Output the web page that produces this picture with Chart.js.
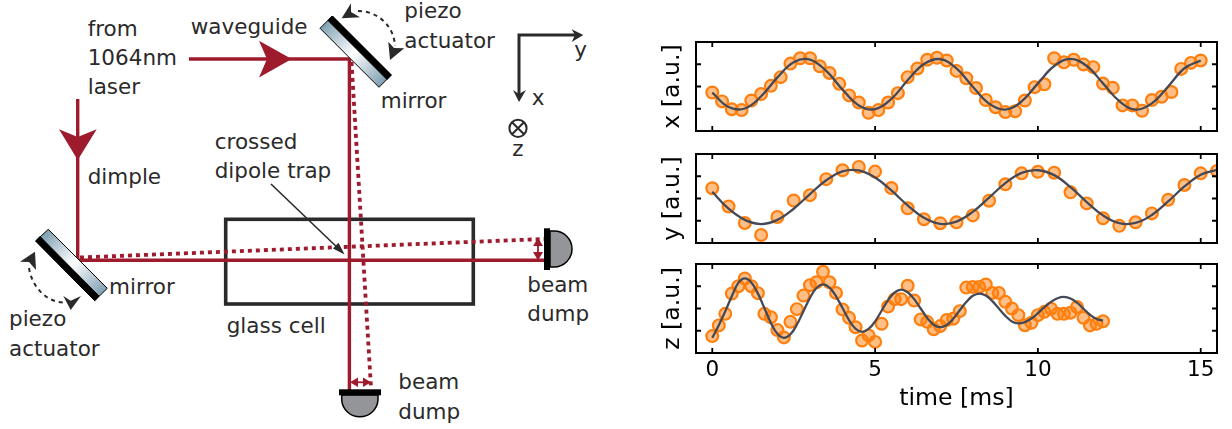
<!DOCTYPE html>
<html lang="en">
  <head>
    <meta charset="UTF-8" />
    <title>Crossed dipole trap oscillations</title>
    <script src="https://cdn.jsdelivr.net/npm/chart.js@4/dist/chart.umd.js"></script>
    <style>
      html, body { margin: 0; padding: 0; background: #fff; overflow: hidden; }
      #page { position: relative; width: 1232px; height: 429px; }
      canvas { position: absolute; left: 650px; }
      #schematic { position: absolute; left: 0; top: 0; }
      #schematic text { font-family: "DejaVu Sans"; font-size: 21.5px; fill: #2b2a2b; }
    </style>
  </head>
  <body>
    <div id="page">
      <svg id="schematic" width="640" height="429" viewBox="0 0 640 429">
        <defs>
          <linearGradient id="glassTop" gradientUnits="userSpaceOnUse" x1="325" y1="22" x2="385" y2="81">
            <stop offset="0" stop-color="#7f9fb2" />
            <stop offset="0.5" stop-color="#ffffff" />
            <stop offset="1" stop-color="#7f9fb2" />
          </linearGradient>
          <linearGradient id="glassBottom" gradientUnits="userSpaceOnUse" x1="42" y1="235" x2="101" y2="295">
            <stop offset="0" stop-color="#7f9fb2" />
            <stop offset="0.5" stop-color="#ffffff" />
            <stop offset="1" stop-color="#7f9fb2" />
          </linearGradient>
        </defs>

        <!-- glass cell -->
        <rect x="225.7" y="219.3" width="247.6" height="84.7" fill="none" stroke="#2b2a2b" stroke-width="3.6" />

        <!-- beams -->
        <g fill="none" stroke="#9e1b2e" stroke-width="3.4">
          <path d="M189 59H350" />
          <path d="M349.4 59V390" />
          <path d="M77.7 99V260.3H544" />
        </g>
        <g fill="none" stroke="#9e1b2e" stroke-width="3.8">
          <path d="M351.5 62L371 388" stroke-dasharray="4 4" />
          <path d="M80 257.5L544 239" stroke-dasharray="4 4" />
        </g>
        <g fill="#9e1b2e">
          <path d="M291.7 59L259 40.7L267 59L259 77.6Z" />
          <path d="M77.7 160L59 129.3L77.7 137L96.7 129.3Z" />
        </g>

        <!-- small displacement arrows at the dumps -->
        <g fill="none" stroke="#9e1b2e" stroke-width="1.8">
          <path d="M538 241V258" />
          <path d="M352 382.3H369" />
        </g>
        <g fill="#9e1b2e">
          <path d="M538 238L533 246L543 246Z" />
          <path d="M538 260.5L533 252L543 252Z" />
          <path d="M350 382.3L358 377.5L358 387Z" />
          <path d="M371 382.3L363 377.5L363 387Z" />
        </g>

        <!-- pointer to the crossing -->
        <path d="M271 184L342 252" fill="none" stroke="#2b2a2b" stroke-width="1.6" />
        <path d="M344.6 254.6L333 248.5L338.5 242.8Z" fill="#2b2a2b" />

        <!-- mirrors -->
        <path d="M332.3 16L391.3 75L379 87.3L320 28.3Z" fill="url(#glassTop)" stroke="#000" stroke-width="1" />
        <path d="M332.3 16L391.3 75L387 79.5L328 20.5Z" fill="#000" stroke="#000" stroke-width="1" />
        <path d="M48.3 229.3L107.3 288.3L94.7 300.7L35.7 241Z" fill="url(#glassBottom)" stroke="#000" stroke-width="1" />
        <path d="M35.7 241L94.7 300.7L99 296L40 236.5Z" fill="#000" stroke="#000" stroke-width="1" />

        <!-- piezo arcs -->
        <g fill="none" stroke="#2b2a2b" stroke-width="2" stroke-dasharray="4 4">
          <path d="M358 11C378 11 394 26 395 46" />
          <path d="M29 268C32 287 46 302 64 302.5" />
        </g>
        <g fill="#2b2a2b">
          <path d="M341.7 18.3L351 3.3L351 12L360 17.3Z" />
          <path d="M390 60L388.3 41.7L394 48L404.3 48.3Z" />
          <path d="M35 251.7L20 261.7L29 262L36 270Z" />
          <path d="M70.7 310L63.3 296L70.7 300.7L81 296Z" />
        </g>

        <!-- beam dumps -->
        <path d="M550 231H554A18 18 0 0 1 554 267H550Z" fill="#939598" stroke="#000" stroke-width="1.5" />
        <rect x="544" y="228.3" width="6" height="41.7" fill="#000" />
        <path d="M341.7 395V400A18.2 18.2 0 0 0 378 400V395Z" fill="#939598" stroke="#000" stroke-width="1.5" />
        <rect x="339" y="389.3" width="42" height="6" fill="#000" />

        <!-- coordinate axes -->
        <path d="M575 35H519V94" fill="none" stroke="#2b2a2b" stroke-width="3" />
        <path d="M583.3 35L571.7 29.3L575 35L571.7 42Z" fill="#2b2a2b" />
        <path d="M519 102L513 90L519 94L526 90Z" fill="#2b2a2b" />
        <circle cx="518" cy="128.3" r="8.6" fill="none" stroke="#2b2a2b" stroke-width="2" />
        <path d="M512 122.3L524 134.3M524 122.3L512 134.3" stroke="#2b2a2b" stroke-width="2" />

        <!-- labels -->
        <text x="87.7" y="36">from</text>
        <text x="87.7" y="65">1064nm</text>
        <text x="87.7" y="94">laser</text>
        <text x="190.7" y="33.7">waveguide</text>
        <text x="87.7" y="184">dimple</text>
        <text x="214.7" y="149">crossed</text>
        <text x="214.7" y="178">dipole trap</text>
        <text x="404.3" y="18">piezo</text>
        <text x="404.3" y="47.7">actuator</text>
        <text x="380.7" y="108">mirror</text>
        <text x="574.3" y="56.7">y</text>
        <text x="531.7" y="105">x</text>
        <text x="512.3" y="155.7">z</text>
        <text x="109" y="294">mirror</text>
        <text x="9" y="326">piezo</text>
        <text x="9" y="355.7">actuator</text>
        <text x="226.7" y="332.7">glass cell</text>
        <text x="527.3" y="292">beam</text>
        <text x="527.3" y="321">dump</text>
        <text x="398.3" y="389.3">beam</text>
        <text x="398.3" y="419">dump</text>
      </svg>
      <canvas id="chartX" width="582" height="93" style="top:40px"></canvas>
      <canvas id="chartY" width="582" height="93" style="top:151.5px"></canvas>
      <canvas id="chartZ" width="582" height="167" style="top:262px"></canvas>
    </div>

    <script>
      const xTickValues = [0, 5, 10, 15];
      const yTickValues = [-1, 0, 1];

      const xTimes = [0, 0.3, 0.6, 0.9, 1.2, 1.5, 1.8, 2.1, 2.4, 2.7, 3, 3.3, 3.6, 3.9, 4.2, 4.5, 4.8, 5.1, 5.4, 5.7, 6, 6.3, 6.6, 6.9, 7.2, 7.5, 7.8, 8.1, 8.4, 8.7, 9, 9.3, 9.6, 9.9, 10.2, 10.5, 10.8, 11.1, 11.4, 11.7, 12, 12.3, 12.6, 12.9, 13.2, 13.5, 13.8, 14.1, 14.4, 14.7, 15];
      const xValues = [-0.27, -0.67, -1.02, -1.06, -0.63, -0.34, 0.03, 0.42, 1.03, 1.27, 1.27, 0.91, 0.61, 0.12, -0.40, -0.72, -1.18, -1.06, -0.72, -0.30, 0.42, 0.81, 1.20, 1.29, 1.17, 0.70, 0.37, -0.07, -0.61, -0.93, -1.15, -1.11, -0.63, -0.03, 0.10, 1.27, 1.09, 1.20, 0.99, 0.87, 0.13, -0.06, -0.85, -0.85, -1.09, -0.61, -0.46, -0.25, 0.79, 1.06, 1.17];

      const fitTimes = [0, 0.5, 1, 1.5, 2, 2.5, 3, 3.5, 4, 4.5, 5, 5.5, 6, 6.5, 7, 7.5, 8, 8.5, 9, 9.5, 10, 10.5, 11, 11.5, 12, 12.5, 13, 13.5, 14, 14.5, 15, 15.5];
      const xFit = [-0.28, -0.92, -0.99, -0.44, 0.41, 1.09, 1.21, 0.70, -0.14, -0.85, -1.02, -0.56, 0.28, 1.01, 1.23, 0.81, -0.01, -0.77, -1.04, -0.67, 0.14, 0.92, 1.24, 0.92, 0.14, -0.66, -1.04, -0.76, 0.0, 0.82, 1.17];

      const yValues = [0.46, -0.36, -1.10, -1.64, -0.83, -0.09, 0.15, 0.87, 1.27, 1.42, 1.21, 0.47, -0.44, -0.93, -1.11, -1.07, -0.76, -0.10, 0.64, 1.13, 1.20, 1.16, 0.28, -0.22, -0.89, -1.23, -1.07, -0.67, -0.06, 0.61, 1.13, 1.24];
      const yFit = [0.30, -0.46, -0.96, -1.15, -0.96, -0.46, 0.20, 0.82, 1.22, 1.26, 0.94, 0.36, -0.31, -0.87, -1.14, -1.04, -0.60, 0.04, 0.69, 1.15, 1.27, 1.05, 0.51, -0.16, -0.76, -1.11, -1.10, -0.74, -0.13, 0.54, 1.07, 1.29];

      const zTimes = [0, 0.2, 0.4, 0.6, 0.8, 1, 1.2, 1.4, 1.6, 1.8, 2, 2.2, 2.4, 2.6, 2.8, 3, 3.2, 3.4, 3.6, 3.8, 4, 4.2, 4.4, 4.6, 4.8, 5, 5.2, 5.4, 5.6, 5.8, 6, 6.2, 6.4, 6.6, 6.8, 7, 7.2, 7.4, 7.6, 7.8, 8, 8.2, 8.4, 8.6, 8.8, 9, 9.2, 9.4, 9.6, 9.8, 10, 10.2, 10.4, 10.6, 10.8, 11, 11.2, 11.4, 11.6, 11.8, 12];
      const zValues = [-1.24, -0.76, -0.24, 0.67, 1.00, 1.35, 1.00, 0.69, -0.24, -0.39, -0.97, -1.30, -0.60, -0.03, 0.58, 1.05, 1.18, 1.65, 1.18, 0.70, -0.04, -0.42, -0.84, -1.44, -1.21, -1.50, -0.69, 0.09, 0.42, 0.42, 1.02, 0.36, -0.49, -0.60, -0.93, -0.79, -0.52, -0.46, -0.12, 0.94, 0.97, 0.97, 1.08, 0.70, 0.70, 0.30, 0, -0.30, -0.75, -0.64, -0.30, -0.15, -0.01, -0.24, -0.24, -0.19, 0.07, -0.42, -0.76, -0.69, -0.57];
      const zFit = [-1.32, -0.75, -0.12, 0.55, 1.15, 1.35, 1.17, 0.68, 0.02, -0.65, -1.14, -1.32, -1.16, -0.72, -0.12, 0.48, 0.92, 1.08, 0.94, 0.55, 0.02, -0.52, -0.91, -1.05, -0.92, -0.58, -0.10, 0.38, 0.72, 0.85, 0.73, 0.42, 0, -0.42, -0.73, -0.84, -0.74, -0.46, -0.08, 0.29, 0.57, 0.67, 0.58, 0.33, 0, -0.33, -0.58, -0.67, -0.61, -0.45, -0.21, 0.06, 0.30, 0.46, 0.52, 0.45, 0.26, -0.01, -0.28, -0.47, -0.54];

      // ticks point inward on all four sides, so they are drawn here
      const frameTicks = {
        id: "frameTicks",
        afterDatasetsDraw(chart) {
          const { ctx, chartArea: a, scales } = chart;
          ctx.save();
          ctx.strokeStyle = "#000";
          ctx.lineWidth = 1.8;
          ctx.beginPath();
          scales.x.ticks.forEach((t) => {
            const px = scales.x.getPixelForValue(t.value);
            ctx.moveTo(px, a.top);
            ctx.lineTo(px, a.top + 5);
            ctx.moveTo(px, a.bottom);
            ctx.lineTo(px, a.bottom - 5);
          });
          scales.y.ticks.forEach((t) => {
            const py = scales.y.getPixelForValue(t.value);
            ctx.moveTo(a.left, py);
            ctx.lineTo(a.left + 5, py);
            ctx.moveTo(a.right, py);
            ctx.lineTo(a.right - 5, py);
          });
          ctx.stroke();
          ctx.lineWidth = 2;
          ctx.strokeRect(a.left, a.top, a.right - a.left, a.bottom - a.top);
          ctx.restore();
        },
      };

      function pairs(times, values) {
        return values.map((v, i) => ({ x: times[i], y: v }));
      }

      function drawPanel(id, yLabel, points, fit, showTime) {
        new Chart(document.getElementById(id).getContext("2d"), {
          type: "scatter",
          data: {
            datasets: [
              {
                data: fit,
                showLine: true,
                pointRadius: 0,
                borderColor: "#444955",
                borderWidth: 2.3,
                tension: 0.4,
              },
              {
                data: points,
                pointRadius: 5.9,
                backgroundColor: "rgba(255,127,14,0.5)",
                borderColor: "#ff7f0e",
                borderWidth: 2.2,
              },
            ],
          },
          options: {
            responsive: false,
            animation: false,
            layout: { autoPadding: false, padding: { top: 2, right: 15, bottom: showTime ? 0 : 2, left: 0 } },
            plugins: { legend: { display: false }, tooltip: { enabled: false } },
            scales: {
              x: {
                type: "linear",
                min: -0.5,
                max: 15.5,
                afterBuildTicks: (s) => { s.ticks = xTickValues.map((v) => ({ value: v })); },
                afterFit: (s) => { s.height = showTime ? 76 : 0; },
                grid: { display: false, drawTicks: false },
                border: { display: false },
                ticks: {
                  display: showTime,
                  padding: 5,
                  maxRotation: 0,
                  color: "#000",
                  font: { family: "DejaVu Sans", size: 21.5 },
                },
                title: {
                  display: showTime,
                  text: "time [ms]",
                  color: "#000",
                  padding: { top: 0, bottom: 16 },
                  font: { family: "DejaVu Sans", size: 23.6 },
                },
              },
              y: {
                min: -2,
                max: 2,
                afterBuildTicks: (s) => { s.ticks = yTickValues.map((v) => ({ value: v })); },
                afterFit: (s) => { s.width = 46; },
                grid: { display: false, drawTicks: false },
                border: { display: false },
                ticks: { display: false },
                title: {
                  display: true,
                  text: yLabel,
                  color: "#000",
                  padding: { top: 9, bottom: 0 },
                  font: { family: "DejaVu Sans", size: 23.6 },
                },
              },
            },
          },
          plugins: [frameTicks],
        });
      }

      drawPanel("chartX", "x [a.u.]", pairs(xTimes, xValues), pairs(fitTimes, xFit), false);
      drawPanel("chartY", "y [a.u.]", pairs(fitTimes, yValues), pairs(fitTimes, yFit), false);
      drawPanel("chartZ", "z [a.u.]", pairs(zTimes, zValues), pairs(zTimes, zFit), true);
    </script>
  </body>
</html>
